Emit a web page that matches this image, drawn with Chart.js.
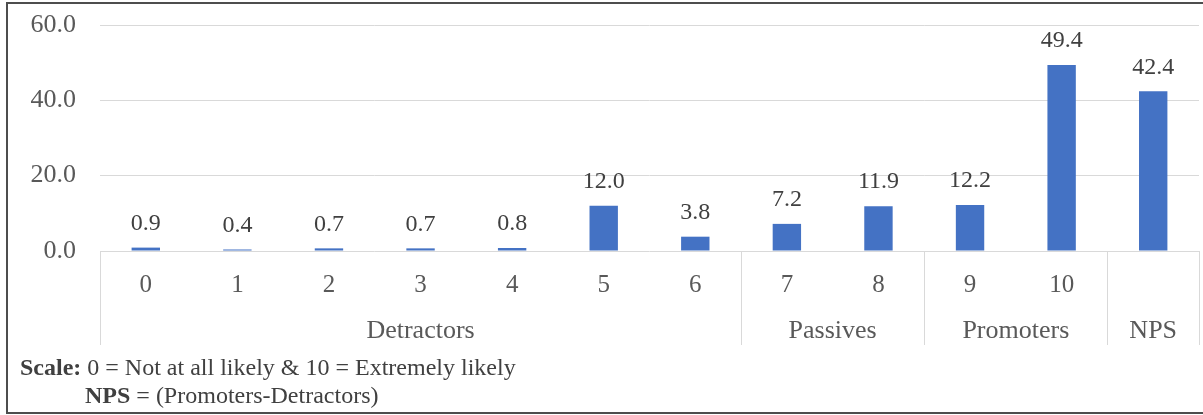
<!DOCTYPE html>
<html lang="en">
<head>
    <meta charset="UTF-8">
    <title>NPS Distribution</title>
    <style>
        body { margin: 0; background: #fff; }
        #wrap { position: relative; width: 1203px; height: 415px; }
    </style>
</head>
<body>
<div id="wrap">
    <canvas id="npsChart" width="1203" height="415"></canvas>
</div>

<script src="https://cdn.jsdelivr.net/npm/chart.js"></script>
<script>
// data
const categories = ['0', '1', '2', '3', '4', '5', '6', '7', '8', '9', '10', ''];
const values = [0.9, 0.4, 0.7, 0.7, 0.8, 12.0, 3.8, 7.2, 11.9, 12.2, 49.4, 42.4];
const groups = ['Detractors', 'Passives', 'Promoters', 'NPS'];
const groupSizes = [7, 2, 2, 1];
const yTicks = [0, 20, 40, 60];

const FONT = "'Liberation Serif', 'Times New Roman', serif";
const TEXT = '#595959';
const LINE = '#d9d9d9';

// value labels, group row, dividers, footnote and frame
const extras = {
    id: 'extras',
    afterDatasetsDraw(chart) {
        const ctx = chart.ctx;
        const meta = chart.getDatasetMeta(0);
        ctx.save();
        ctx.font = '24px ' + FONT;
        ctx.fillStyle = '#404040';
        ctx.textAlign = 'center';
        ctx.textBaseline = 'bottom';
        meta.data.forEach((bar, i) => {
            ctx.fillText(values[i].toFixed(1), bar.x, bar.y - 12);
        });
        ctx.restore();
    },
    afterDraw(chart) {
        const ctx = chart.ctx;
        const area = chart.chartArea;
        const step = (area.right - area.left) / categories.length;
        const lineBottom = 345;

        ctx.save();
        ctx.strokeStyle = LINE;
        ctx.lineWidth = 1;
        let start = 0;
        const edges = [0];
        groupSizes.forEach(n => { start += n; edges.push(start); });
        edges.forEach(e => {
            const px = Math.round(area.left + e * step) + 0.5;
            ctx.beginPath();
            ctx.moveTo(px, area.bottom);
            ctx.lineTo(px, lineBottom);
            ctx.stroke();
        });

        ctx.font = '26px ' + FONT;
        ctx.fillStyle = TEXT;
        ctx.textAlign = 'center';
        ctx.textBaseline = 'middle';
        start = 0;
        groups.forEach((g, i) => {
            const mid = area.left + (start + groupSizes[i] / 2) * step;
            ctx.fillText(g, mid, 331);
            start += groupSizes[i];
        });

        // footnote
        ctx.textAlign = 'left';
        ctx.fillStyle = '#404040';
        ctx.font = 'bold 24px ' + FONT;
        ctx.fillText('Scale:', 20, 369);
        let w = ctx.measureText('Scale: ').width;
        ctx.font = '24px ' + FONT;
        ctx.fillText('0 = Not at all likely & 10 = Extremely likely', 20 + w, 369);
        ctx.font = 'bold 24px ' + FONT;
        ctx.fillText('NPS', 85, 397);
        w = ctx.measureText('NPS ').width;
        ctx.font = '24px ' + FONT;
        ctx.fillText('= (Promoters-Detractors)', 85 + w, 397);

        // outer frame
        ctx.strokeStyle = '#4d4d4d';
        ctx.lineWidth = 2;
        ctx.strokeRect(7, 3, 1205, 410);
        ctx.restore();
    }
};

new Chart(document.getElementById('npsChart'), {
    type: 'bar',
    data: {
        labels: categories,
        datasets: [{
            data: values,
            backgroundColor: '#4472C4',
            barPercentage: 0.31,
            categoryPercentage: 1
        }]
    },
    options: {
        responsive: false,
        animation: false,
        layout: { padding: { top: 25, right: 4, left: 0, bottom: 0 } },
        plugins: { legend: { display: false }, tooltip: { enabled: false } },
        scales: {
            x: {
                grid: { display: false },
                border: { display: false },
                ticks: {
                    color: TEXT,
                    font: { family: FONT, size: 25 },
                    padding: 11,
                    maxRotation: 0,
                    autoSkip: false
                },
                afterFit(scale) {
                    scale.height = 164;
                    scale.paddingLeft = 0;
                    scale.paddingRight = 0;
                }
            },
            y: {
                min: 0,
                max: 60,
                afterBuildTicks(scale) { scale.ticks = yTicks.map(v => ({ value: v })); },
                grid: { color: LINE, drawTicks: false },
                border: { display: false },
                ticks: {
                    color: TEXT,
                    font: { family: FONT, size: 26 },
                    padding: 24,
                    callback: v => v.toFixed(1)
                },
                afterFit(scale) {
                    scale.width = 100;
                    scale.paddingTop = 0;
                    scale.paddingBottom = 0;
                }
            }
        }
    },
    plugins: [extras]
});
</script>
</body>
</html>
